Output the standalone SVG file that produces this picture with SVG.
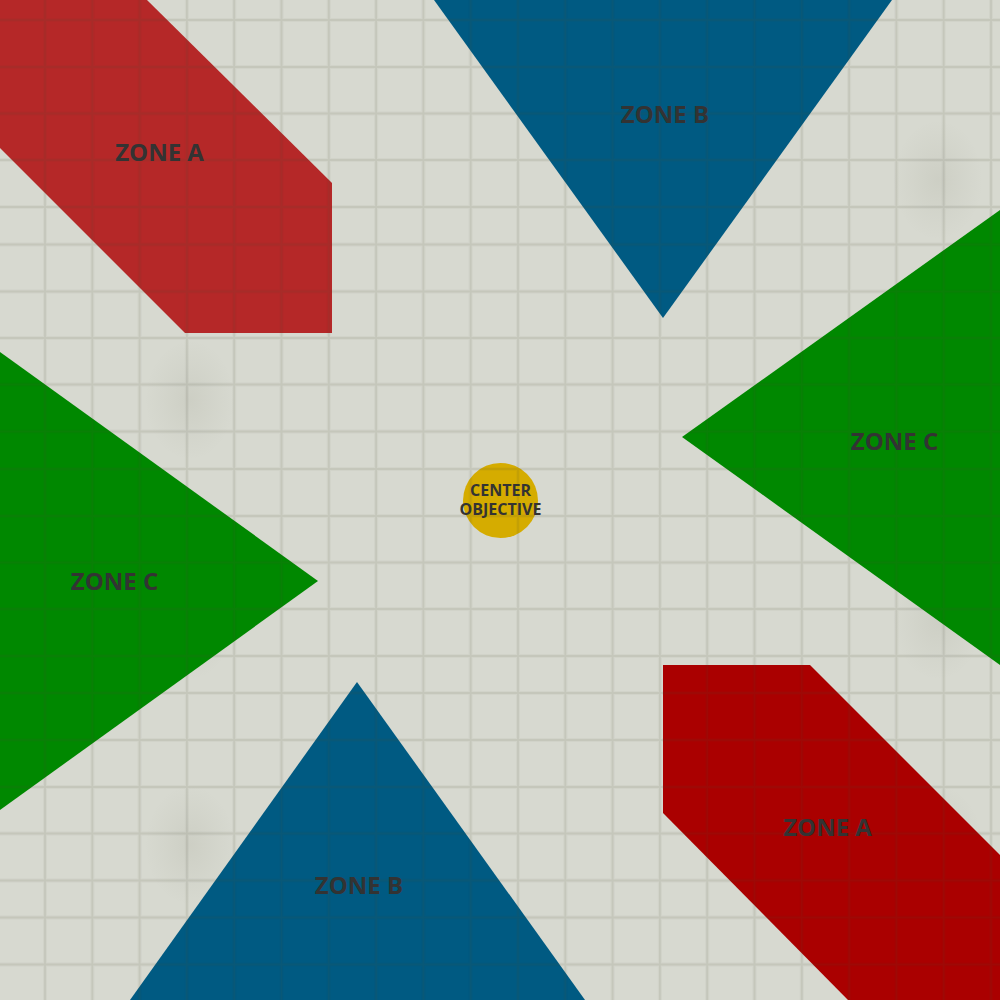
<svg xmlns="http://www.w3.org/2000/svg" width="1000" height="1000" viewBox="0 0 1000 1000">
  <defs>
    <style>
      .lbl { font-family: "Open Sans", "Noto Sans", "Liberation Sans", sans-serif; font-weight: 700; fill: #333333; text-anchor: middle; }
      .zone { font-size: 24px; }
      .ctr { font-size: 16px; }
      .grid { fill: none; stroke: #4f4f36; stroke-opacity: 0.09; stroke-width: 1.8; }
      .grid2 { fill: none; stroke: #4f4f36; stroke-opacity: 0.04; stroke-width: 4; }
    </style>
    <radialGradient id="smudge">
      <stop offset="0" stop-color="#5a5a40" stop-opacity="0.08"/>
      <stop offset="0.6" stop-color="#5a5a40" stop-opacity="0.03"/>
      <stop offset="1" stop-color="#5a5a40" stop-opacity="0"/>
    </radialGradient>
  </defs>

  <rect id="paper" x="0" y="0" width="1000" height="1000" fill="#d7d9d0"/>
  <g id="smudges" fill="url(#smudge)">
    <ellipse cx="190" cy="180" rx="45" ry="60"/>
    <ellipse cx="190" cy="400" rx="45" ry="60"/>
    <ellipse cx="190" cy="620" rx="45" ry="60"/>
    <ellipse cx="190" cy="845" rx="45" ry="60"/>
    <ellipse cx="938" cy="180" rx="45" ry="60"/>
    <ellipse cx="938" cy="400" rx="45" ry="60"/>
    <ellipse cx="938" cy="620" rx="45" ry="60"/>
    <ellipse cx="938" cy="845" rx="45" ry="60"/>
  </g>

  <g id="zone-a-top-left">
    <polygon points="0,0 147,0 332,183 332,333 185,333 0,148" fill="#b52828"/>
  </g>
  <g id="zone-b-top">
    <polygon points="434,0 892,0 663,318" fill="#005a82"/>
  </g>
  <g id="zone-c-right">
    <polygon points="1000,210 682,437 1000,665" fill="#008800"/>
  </g>
  <g id="zone-c-left">
    <polygon points="0,352 318,581 0,810" fill="#008800"/>
  </g>
  <g id="zone-b-bottom">
    <polygon points="130,1000 585,1000 357,682" fill="#005a82"/>
  </g>
  <g id="zone-a-bottom-right">
    <polygon points="663,665 810,665 1000,855 1000,1000 848,1000 663,813" fill="#aa0000"/>
  </g>
  <g id="center-objective">
    <circle cx="500.5" cy="500.5" r="37.5" fill="#d5ac00"/>
  </g>

  <g id="grid-overlay">
    <path class="grid2" d="M45,0V1000M92.3,0V1000M139.6,0V1000M186.9,0V1000M234.2,0V1000M281.5,0V1000M328.8,0V1000M376.1,0V1000M423.4,0V1000M470.7,0V1000M518,0V1000M565.3,0V1000M612.6,0V1000M659.9,0V1000M707.2,0V1000M754.5,0V1000M801.8,0V1000M849.1,0V1000M896.4,0V1000M943.7,0V1000M991,0V1000
      M0,20H1000M0,67H1000M0,113.5H1000M0,160H1000M0,207H1000M0,244.5H1000M0,291.5H1000M0,338H1000M0,384.5H1000M0,431.5H1000M0,469H1000M0,516H1000M0,562.5H1000M0,609H1000M0,656H1000M0,693H1000M0,740H1000M0,787H1000M0,833.5H1000M0,880.5H1000M0,917.5H1000M0,964.5H1000"/>
    <path class="grid" d="M45,0V1000M92.3,0V1000M139.6,0V1000M186.9,0V1000M234.2,0V1000M281.5,0V1000M328.8,0V1000M376.1,0V1000M423.4,0V1000M470.7,0V1000M518,0V1000M565.3,0V1000M612.6,0V1000M659.9,0V1000M707.2,0V1000M754.5,0V1000M801.8,0V1000M849.1,0V1000M896.4,0V1000M943.7,0V1000M991,0V1000
      M0,20H1000M0,67H1000M0,113.5H1000M0,160H1000M0,207H1000M0,244.5H1000M0,291.5H1000M0,338H1000M0,384.5H1000M0,431.5H1000M0,469H1000M0,516H1000M0,562.5H1000M0,609H1000M0,656H1000M0,693H1000M0,740H1000M0,787H1000M0,833.5H1000M0,880.5H1000M0,917.5H1000M0,964.5H1000"/>
  </g>

  <g id="labels">
    <text class="lbl zone" x="159.5" y="161">ZONE A</text>
    <text class="lbl zone" x="665" y="123">ZONE B</text>
    <text class="lbl zone" x="894.5" y="450">ZONE C</text>
    <text class="lbl zone" x="114.5" y="590">ZONE C</text>
    <text class="lbl zone" x="359" y="894">ZONE B</text>
    <text class="lbl zone" x="827.5" y="836">ZONE A</text>
    <text class="lbl ctr" x="500.5" y="496">CENTER</text>
    <text class="lbl ctr" x="500.5" y="515">OBJECTIVE</text>
  </g>
</svg>
